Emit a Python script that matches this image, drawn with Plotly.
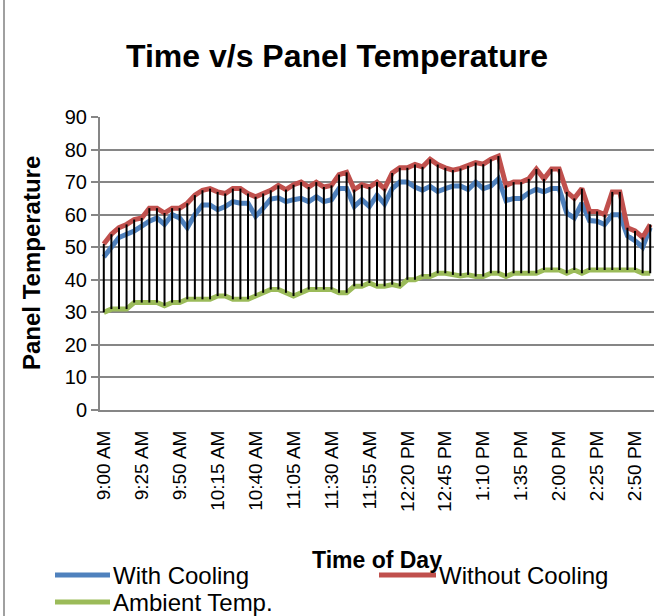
import plotly.graph_objects as go

time_labels = [
    "9:00 AM", "9:05 AM", "9:10 AM", "9:15 AM", "9:20 AM", "9:25 AM", "9:30 AM", "9:35 AM", "9:40 AM", "9:45 AM", "9:50 AM", "9:55 AM",
    "10:00 AM", "10:05 AM", "10:10 AM", "10:15 AM", "10:20 AM", "10:25 AM", "10:30 AM", "10:35 AM", "10:40 AM", "10:45 AM", "10:50 AM", "10:55 AM",
    "11:00 AM", "11:05 AM", "11:10 AM", "11:15 AM", "11:20 AM", "11:25 AM", "11:30 AM", "11:35 AM", "11:40 AM", "11:45 AM", "11:50 AM", "11:55 AM",
    "12:00 PM", "12:05 PM", "12:10 PM", "12:15 PM", "12:20 PM", "12:25 PM", "12:30 PM", "12:35 PM", "12:40 PM", "12:45 PM", "12:50 PM", "12:55 PM",
    "1:00 PM", "1:05 PM", "1:10 PM", "1:15 PM", "1:20 PM", "1:25 PM", "1:30 PM", "1:35 PM", "1:40 PM", "1:45 PM", "1:50 PM", "1:55 PM",
    "2:00 PM", "2:05 PM", "2:10 PM", "2:15 PM", "2:20 PM", "2:25 PM", "2:30 PM", "2:35 PM", "2:40 PM", "2:45 PM", "2:50 PM", "2:55 PM",
    "3:00 PM",
]

with_cooling = [
    47, 50, 53, 54, 55, 56.5, 58, 59, 57, 60, 59, 56,
    60, 63, 63, 61.5, 62.5, 64, 63.5, 63.5, 59.5, 62, 64.8, 65.2,
    64, 64.6, 65, 64, 65.5, 64, 64.6, 68, 68, 62.5, 64.6, 62.5,
    66, 63.3, 68, 70, 70, 68.5, 67.5, 68.7, 67.1, 68, 68.8, 68.8,
    67.7, 70, 68, 68.8, 71, 64.3, 65, 65, 66.7, 67.8, 67, 68,
    68, 60.5, 59, 63.5, 58.2, 58, 57, 60, 60, 53.5, 52, 50,
    56,
]

without_cooling = [
    51, 54, 56, 57, 58.5, 59, 62, 62, 60.5, 62, 62, 63.5,
    66, 67.5, 68, 67, 66.5, 68, 68, 66.5, 65.5, 66.5, 67.5, 69,
    67.7, 69.2, 70, 68.5, 70, 68.5, 69, 72.3, 73, 67.7, 69.2, 68.5,
    70, 68, 72.8, 74.4, 74.4, 75.4, 74.7, 77, 75.4, 74.4, 73.7, 74.2,
    75, 76, 75.5, 77, 78, 69, 70, 70, 71, 74, 71, 74,
    74, 67, 65, 68, 61, 61, 60, 67, 67, 56, 55, 53,
    57,
]

ambient_temp = [
    30, 31, 31, 31, 33, 33, 33, 33, 32, 33, 33, 34,
    34, 34, 34, 35, 35, 34, 34, 34, 35, 36, 37, 37,
    36, 35, 36, 37, 37, 37, 37, 36, 36, 38, 38, 39,
    38, 38, 38.5, 38, 40, 40, 41, 41, 42, 42, 41.5, 41.2,
    41.5, 41, 41, 42, 42, 41, 42, 42, 42, 42, 43, 43,
    43, 42, 43, 42, 43, 43, 43, 43, 43, 43, 43, 42,
    42,
]

series_names = ["With Cooling", "Without Cooling", "Ambient Temp."]
series_colors = ["#4F81BD", "#C0504D", "#9BBB59"]
y_ticks = [0, 10, 20, 30, 40, 50, 60, 70, 80, 90]

FONT = "Liberation Sans, Arial, sans-serif"

# plot area in pixels
W, H = 664, 616
L, R, T, B = 100, 10, 117, 206
PW, PH = W - L - R, H - T - B


def px_x(px):
    return (px - L) / PW


def px_y(py):
    return (H - B - py) / PH


fig = go.Figure()

for name, vals, col in zip(series_names, [with_cooling, without_cooling, ambient_temp], series_colors):
    fig.add_trace(go.Scatter(x=time_labels, y=vals, mode="lines", name=name,
                             line=dict(color=col, width=5), showlegend=False))

# high-low lines
hl_x, hl_y = [], []
for t, a, b, c in zip(time_labels, with_cooling, without_cooling, ambient_temp):
    hl_x += [t, t, None]
    hl_y += [max(a, b, c), min(a, b, c), None]
fig.add_trace(go.Scatter(x=hl_x, y=hl_y, mode="lines", line=dict(color="black", width=2),
                         showlegend=False, hoverinfo="skip"))

grid_col = "#868686"
fig.update_xaxes(type="category", categoryorder="array", categoryarray=time_labels,
                 range=[-0.5, len(time_labels) - 0.5],
                 tickvals=time_labels[::5], ticktext=time_labels[::5], tickangle=-90,
                 tickfont=dict(family=FONT, size=19, color="black"),
                 showline=True, linecolor=grid_col, linewidth=2, showgrid=False,
                 ticks="", ticklabelstandoff=11, zeroline=False)
fig.update_yaxes(range=[0, 90], tickvals=y_ticks, showgrid=True, gridcolor=grid_col, gridwidth=1.5,
                 showline=True, linecolor=grid_col, linewidth=2, ticks="outside", ticklen=7,
                 tickcolor=grid_col, tickwidth=1.5,
                 tickfont=dict(family=FONT, size=20, color="black"), zeroline=False)

annotations = [
    dict(text="<b>Panel Temperature</b>", x=px_x(31), y=px_y(263), xref="paper", yref="paper",
         textangle=-90, showarrow=False, xanchor="center", yanchor="middle",
         font=dict(family=FONT, size=24, color="black")),
    dict(text="<b>Time of Day</b>", x=px_x(377), y=px_y(560), xref="paper", yref="paper",
         showarrow=False, xanchor="center", yanchor="middle",
         font=dict(family=FONT, size=23, color="black")),
]
shapes = [
    dict(type="line", xref="paper", yref="paper", x0=px_x(4), x1=px_x(4), y0=px_y(0), y1=px_y(616),
         line=dict(color="#A0A0A0", width=2)),
]

# custom legend
legend_pos = [(55, 110, 575), (379, 436, 575), (55, 110, 602)]
for name, col, (x0, x1, yy) in zip(series_names, series_colors, legend_pos):
    shapes.append(dict(type="line", xref="paper", yref="paper", x0=px_x(x0), x1=px_x(x1),
                       y0=px_y(yy), y1=px_y(yy), line=dict(color=col, width=5)))
    annotations.append(dict(text=name, x=px_x(x1 + 1), y=px_y(yy), xref="paper", yref="paper",
                            showarrow=False, xanchor="left", yanchor="middle",
                            font=dict(family=FONT, size=24, color="black")))

fig.update_layout(
    width=W, height=H,
    margin=dict(l=L, r=R, t=T, b=B),
    paper_bgcolor="white", plot_bgcolor="white",
    title=dict(text="<b>Time v/s Panel Temperature</b>", x=337 / W, xref="container", xanchor="center",
               y=1 - 56 / H, yref="container", yanchor="middle",
               font=dict(family=FONT, size=32, color="black")),
    annotations=annotations,
    shapes=shapes,
    showlegend=False,
)

fig.write_html("out.html", config={"displayModeBar": False},
               post_script="document.body.style.margin='0';")
